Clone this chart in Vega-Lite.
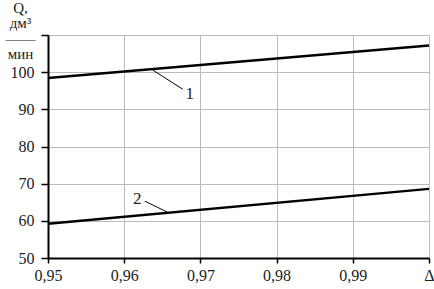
{
  "$schema": "https://vega.github.io/schema/vega-lite/v6.json",
  "autosize": {"type": "none"},
  "width": 381,
  "height": 223,
  "padding": {"left": 48, "top": 35, "right": 5, "bottom": 31},
  "background": "white",
  "config": {
    "view": {"stroke": null},
    "font": "Liberation Serif",
    "axis": {
      "labelFont": "Liberation Serif",
      "titleFont": "Liberation Serif",
      "labelFontSize": 16,
      "labelColor": "#222",
      "labelOverlap": false,
      "gridColor": "#bbbbbb",
      "gridWidth": 1,
      "domainColor": "black",
      "domainWidth": 2,
      "tickColor": "black",
      "tickWidth": 1.5
    }
  },
  "data": {
    "values": [
      {"kind": "main", "x": 0.95, "q": 98.4, "curve": "1"},
      {"kind": "main", "x": 1.0, "q": 107.2, "curve": "1"},
      {"kind": "main", "x": 0.95, "q": 59.2, "curve": "2"},
      {"kind": "main", "x": 1.0, "q": 68.6, "curve": "2"},
      {"kind": "leader", "x": 0.9638, "q": 100.5, "curve": "1"},
      {"kind": "leader", "x": 0.9677, "q": 95.4, "curve": "1"},
      {"kind": "leader", "x": 0.9627, "q": 65.3, "curve": "2"},
      {"kind": "leader", "x": 0.9657, "q": 62.3, "curve": "2"},
      {"kind": "label", "x": 0.9686, "q": 94.0, "curve": "1"},
      {"kind": "label", "x": 0.9617, "q": 65.8, "curve": "2"}
    ]
  },
  "encoding": {
    "x": {
      "field": "x", "type": "quantitative",
      "scale": {"domain": [0.95, 1.0], "nice": false, "zero": false},
      "axis": {
        "values": [0.95, 0.96, 0.97, 0.98, 0.99, 1.0],
        "labelExpr": "datum.value >= 0.9999 ? 'Δ' : replace(format(datum.value, '.2f'), '.', ',')",
        "title": null,
        "tickSize": 5,
        "labelPadding": 4,
        "labelFlush": false,
        "labelOverlap": false
      }
    },
    "y": {
      "field": "q", "type": "quantitative",
      "scale": {"domain": [50, 110], "nice": false, "zero": false},
      "axis": {
        "values": [50, 60, 70, 80, 90, 100, 110],
        "labelExpr": "datum.value > 105 ? '' : format(datum.value, 'd')",
        "labelOverlap": false,
        "labelFlush": false,
        "tickSize": 7,
        "labelPadding": 7,
        "title": ["Q,", "дм³", "——", "мин"],
        "titleAngle": 0,
        "titleAlign": "center",
        "titleBaseline": "top",
        "titleX": -28,
        "titleY": -35,
        "titleFontSize": 15,
        "titleFontWeight": "normal",
        "titleLineHeight": 15.5,
        "titleColor": "#222"
      }
    }
  },
  "layer": [
    {
      "transform": [{"filter": "datum.kind === 'main'"}],
      "mark": {"type": "line", "color": "black", "strokeWidth": 2.5},
      "encoding": {"detail": {"field": "curve"}}
    },
    {
      "transform": [{"filter": "datum.kind === 'leader'"}],
      "mark": {"type": "line", "color": "black", "strokeWidth": 1},
      "encoding": {"detail": {"field": "curve"}}
    },
    {
      "transform": [{"filter": "datum.kind === 'label'"}],
      "mark": {"type": "text", "font": "Liberation Serif", "fontSize": 17, "color": "#222"},
      "encoding": {"text": {"field": "curve"}}
    }
  ]
}
